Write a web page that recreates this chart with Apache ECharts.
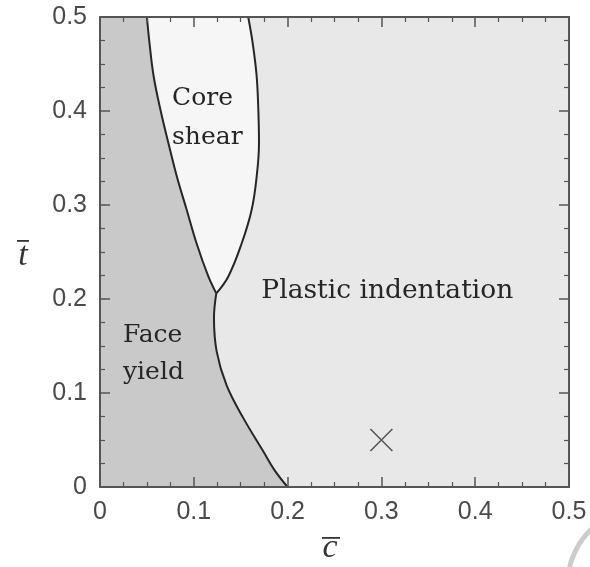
<!DOCTYPE html>
<html>
<head>
<meta charset="utf-8">
<script src="https://cdn.jsdelivr.net/npm/echarts@6/dist/echarts.min.js"></script>
<style>
  html, body { margin: 0; padding: 0; background: #ffffff; }
  #chart { width: 590px; height: 567px; }
</style>
</head>
<body>
<div id="chart"></div>
<script>
// Failure-mode map of a sandwich beam: normalised core thickness c̄ (x) vs face thickness t̄ (y).

// Face yield / plastic indentation boundary, from the c̄ axis up to the triple point
const indentEdgeT = [0, 0.018, 0.038, 0.073, 0.108, 0.144, 0.180, 0.206];
const indentEdgeC = [0.200, 0.186, 0.174, 0.153, 0.135, 0.1244, 0.1215, 0.124];

// Face yield / core shear boundary, from the triple point up to t̄ = 0.5
const shearLeftT = [0.206, 0.224, 0.259, 0.295, 0.330, 0.366, 0.401, 0.437, 0.472, 0.5];
const shearLeftC = [0.124, 0.1155, 0.103, 0.0924, 0.0820, 0.0729, 0.0645, 0.0572, 0.0528, 0.050];

// Core shear / plastic indentation boundary, from the triple point up to t̄ = 0.5
const shearRightT = [0.206, 0.224, 0.259, 0.295, 0.330, 0.366, 0.401, 0.437, 0.472, 0.5];
const shearRightC = [0.124, 0.1368, 0.151, 0.1617, 0.167, 0.1695, 0.1688, 0.167, 0.1628, 0.158];

// Design point marked with a cross
const designC = [0.3];
const designT = [0.05];

// Axis limits
const axisMin = 0;
const axisMax = 0.5;
const axisStep = 0.1;

const zip = (cs, ts) => cs.map((c, i) => [c, ts[i]]);
const indentEdge = zip(indentEdgeC, indentEdgeT);
const shearLeft = zip(shearLeftC, shearLeftT);
const shearRight = zip(shearRightC, shearRightT);

// Region outlines assembled from the boundaries
const regionShapes = [
  { name: 'Plastic indentation', color: '#e8e8e8',
    pts: [[axisMax, axisMin], [axisMax, axisMax]]
      .concat(shearRight.slice().reverse())
      .concat(indentEdge.slice().reverse()) },
  { name: 'Face yield', color: '#c9c9c9',
    pts: [[axisMin, axisMin]].concat(indentEdge).concat(shearLeft.slice(1)).concat([[axisMin, axisMax]]) },
  { name: 'Core shear', color: '#f6f6f6',
    pts: shearLeft.concat(shearRight.slice().reverse()) }
];

const chart = echarts.init(document.getElementById('chart'), null, { renderer: 'canvas' });

const frameColor = '#555555';
const tickLabelStyle = { fontFamily: 'Liberation Sans', fontSize: 25, color: '#4a4a4a' };

function valueAxis(position, showLabels, margin) {
  return {
    type: 'value', position: position, min: axisMin, max: axisMax, interval: axisStep,
    z: 10,
    axisLine: { show: true, onZero: false, lineStyle: { color: frameColor, width: 2 } },
    axisTick: { show: true, inside: true, length: 10, lineStyle: { color: frameColor, width: 1.5 } },
    minorTick: { show: true, splitNumber: 4, length: 5, lineStyle: { color: frameColor, width: 1.2 } },
    splitLine: { show: false },
    minorSplitLine: { show: false },
    axisLabel: Object.assign({ show: showLabels, margin: margin }, tickLabelStyle)
  };
}

const boundaryStyle = { color: '#262626', width: 2 };
function boundary(name, pts) {
  return {
    name: name, type: 'line', data: pts, smooth: 0.4, symbol: 'none',
    lineStyle: boundaryStyle, z: 5, silent: true, animation: false
  };
}

chart.setOption({
  animation: false,
  backgroundColor: '#ffffff',
  grid: { left: 100, right: 21, top: 17, bottom: 80 },
  xAxis: [valueAxis('bottom', true, 13), valueAxis('top', false, 8)],
  yAxis: [valueAxis('left', true, 13), valueAxis('right', false, 8)],
  series: [
    {
      name: 'regions', type: 'custom', z: 1, silent: true,
      data: regionShapes.map((r, i) => [i]),
      renderItem: function (params, api) {
        const r = regionShapes[api.value(0)];
        return {
          type: 'polygon',
          shape: { points: r.pts.map(p => api.coord(p)) },
          style: { fill: r.color, stroke: r.color, lineWidth: 0.5 }
        };
      }
    },
    boundary('indentation edge', indentEdge),
    boundary('shear left edge', shearLeft),
    boundary('shear right edge', shearRight),
    {
      name: 'design point', type: 'scatter', z: 6,
      data: zip(designC, designT),
      symbol: 'path://M0,0L10,10M10,0L0,10', symbolSize: 22,
      itemStyle: { color: 'transparent', borderColor: '#333333', borderWidth: 1.6 }
    }
  ]
});

// Region names, anchored in data coordinates (left edge, line middle)
const regionLabels = [
  { text: 'Core',  at: [0.0768, 0.4128], size: 25 },
  { text: 'shear', at: [0.0768, 0.3723], size: 25 },
  { text: 'Face',  at: [0.0245, 0.1617], size: 25 },
  { text: 'yield', at: [0.0245, 0.1213], size: 25 },
  { text: 'Plastic indentation', at: [0.1720, 0.2085], size: 26.5 }
];

const graphics = regionLabels.map(l => {
  const p = chart.convertToPixel({ gridIndex: 0 }, l.at);
  return {
    type: 'text', x: p[0], y: p[1], z: 20, silent: true,
    style: { text: l.text, fill: '#262626', font: l.size + 'px "DejaVu Serif"', textAlign: 'left', textVerticalAlign: 'middle' }
  };
});

// Axis titles: italic letters with an overbar
const axisTitleFont = 'italic 34px "Liberation Serif"';
graphics.push(
  { type: 'text', x: 23, y: 256, z: 20, style: { text: 't', fill: '#333333', font: axisTitleFont, textAlign: 'center', textVerticalAlign: 'middle' } },
  { type: 'rect', z: 20, shape: { x: 17, y: 240, width: 12, height: 1.8 }, style: { fill: '#333333' } },
  { type: 'text', x: 330, y: 548, z: 20, style: { text: 'c', fill: '#333333', font: axisTitleFont, textAlign: 'center', textVerticalAlign: 'middle' } },
  { type: 'rect', z: 20, shape: { x: 322, y: 537, width: 18, height: 1.8 }, style: { fill: '#333333' } }
);

// Corner emblem arc
graphics.push({
  type: 'arc', z: 0, silent: true,
  shape: { cx: 645, cy: 585, r: 77.5, startAngle: 3.0, endAngle: 3.95 },
  style: { stroke: '#cccccc', lineWidth: 5, fill: null }
});

chart.setOption({ graphic: graphics });
</script>
</body>
</html>
